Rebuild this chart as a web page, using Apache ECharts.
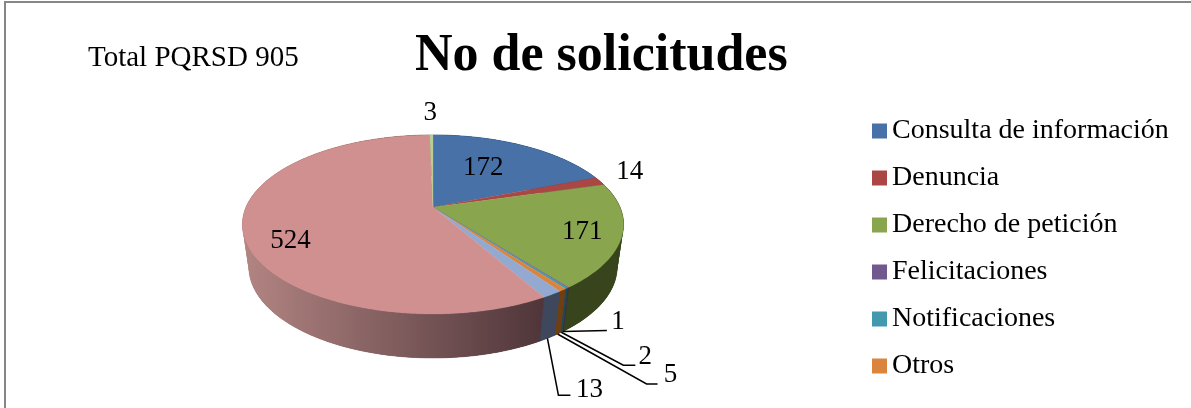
<!DOCTYPE html>
<html><head><meta charset="utf-8">
<style>html,body{margin:0;padding:0;background:#fff}#c{width:1191px;height:408px}</style>
<script src="https://cdn.jsdelivr.net/npm/echarts@6/dist/echarts.min.js"></script>
</head><body><div id="c"></div>
<script>
const categories = ['Consulta de información','Denuncia','Derecho de petición','Felicitaciones','Notificaciones','Otros','Serie 7','Serie 8','Serie 9'];
const legendNames = ['Consulta de información','Denuncia','Derecho de petición','Felicitaciones','Notificaciones','Otros'];
const values = [172,14,171,1,2,5,13,524,3];
const titleText = 'No de solicitudes';
const noteText = 'Total PQRSD 905';

const topColors = ['#4771A7','#AA4643','#89A54E','#71588F','#4198AF','#DB843D','#93A9CF','#D09090','#B9CD96'];
const sideColors = ['#2E4A6E','#6E2E2C','#38441C','#3A2C48','#1F4A56','#6F3F12','#3E475B',null,'#5E6B40'];
const FONT = '"Liberation Serif","DejaVu Serif",serif';

// perspective of the disc
const cx=433, topPlane={cy:207.3,A:187,B:86.2,k:0.192}, botPlane={cy:250,A:181,B:88,k:0.185};
function proj(p,deg,r){r=r==null?1:r;const t=deg*Math.PI/180,u=Math.sin(t)*r,v=-Math.cos(t)*r,d=1-p.k*v;
  return [cx+p.A*u/d,p.cy+p.B*v/d];}
const total=values.reduce((a,b)=>a+b,0);
const starts=[];values.reduce((a,b,i)=>(starts[i]=a,a+b),0);

// label placement relative to the slice: inner labels use radius r, outer ones use an anchor and offset
const labelLayout=[
 {r:.62,off:[-9,1]},
 {r:1,off:[30,-9]},
 {r:.8,off:[0,2]},
 {lead:[[44,-1]],off:[11,-9]},
 {lead:[[62,33],[74,33]],off:[10,-8]},
 {lead:[[89,50],[100,50]],off:[13,-9]},
 {lead:[[11,57],[23,57]],off:[19,-5]},
 {r:.77,off:[2,15]},
 {r:1,off:[-1,-22]}
];

function renderSlice(i){return function(params,api){
  const val=api.value(0),a0=starts[i]/total*360,a1=(starts[i]+val)/total*360,mid=(a0+a1)/2;
  const kids=[];
  const n=Math.max(2,Math.ceil((a1-a0)*2));
  const tp=[],bp=[];
  for(let j=0;j<=n;j++){const a=a0+(a1-a0)*j/n;tp.push(proj(topPlane,a));bp.push(proj(botPlane,a));}
  // side wall: overlapping quads fill the silhouette between the rims, the band on top hides any seam
  let fill=sideColors[i];
  if(!fill)fill=new echarts.graphic.LinearGradient(250,0,540,0,[{offset:0,color:'#B08381'},{offset:1,color:'#50363A'}],true);
  for(let j=0;j<n;j++){
    const e=Math.min(n,j+2);
    kids.push({type:'polygon',z2:1,shape:{points:[tp[j],tp[e],bp[e],bp[j]]},style:{fill:fill}});
  }
  kids.push({type:'polygon',z2:2,shape:{points:tp.concat(bp.slice().reverse())},style:{fill:fill,stroke:fill,lineWidth:.5}});
  // top face
  kids.push({type:'polygon',z2:5,shape:{points:[proj(topPlane,0,0)].concat(tp)},style:{fill:topColors[i],stroke:topColors[i],lineWidth:.3}});
  // label
  const L=labelLayout[i];let pos;
  if(L.lead){const s=proj(botPlane,mid);const pts=[s].concat(L.lead.map(o=>[s[0]+o[0],s[1]+o[1]]));
    kids.push({type:'polyline',z2:8,shape:{points:pts},style:{fill:null,stroke:'#000',lineWidth:1.5}});
    const e=pts[pts.length-1];pos=[e[0]+L.off[0],e[1]+L.off[1]];
  } else {const s=proj(topPlane,mid,L.r);pos=[s[0]+L.off[0],s[1]+L.off[1]];}
  kids.push({type:'text',z2:9,style:{text:String(val),x:pos[0],y:pos[1],align:'center',verticalAlign:'middle',font:'27px '+FONT,fill:'#000'}});
  return {type:'group',children:kids};
};}

const chart=echarts.init(document.getElementById('c'),null,{renderer:'canvas'});
chart.setOption({
  animation:false,backgroundColor:'#fff',
  title:[
   {text:titleText,left:415,top:31,padding:0,textStyle:{fontFamily:FONT,fontWeight:'bold',fontSize:52,color:'#000'}},
   {text:noteText,left:88,top:44,padding:0,textStyle:{fontFamily:FONT,fontWeight:'normal',fontSize:29,color:'#000'}}
  ],
  legend:{data:legendNames,orient:'vertical',left:872,top:117,padding:0,itemWidth:15,itemHeight:15,itemGap:19,icon:'rect',
    textStyle:{fontFamily:FONT,fontSize:28,color:'#000'},selectedMode:false},
  graphic:[{type:'rect',shape:{x:5,y:2,width:1195,height:420},style:{fill:null,stroke:'#868686',lineWidth:2},silent:true}],
  series:categories.map((name,i)=>({type:'custom',name:name,coordinateSystem:'none',silent:true,
    itemStyle:{color:topColors[i]},data:[[values[i]]],renderItem:renderSlice(i)}))
});
</script></body></html>
